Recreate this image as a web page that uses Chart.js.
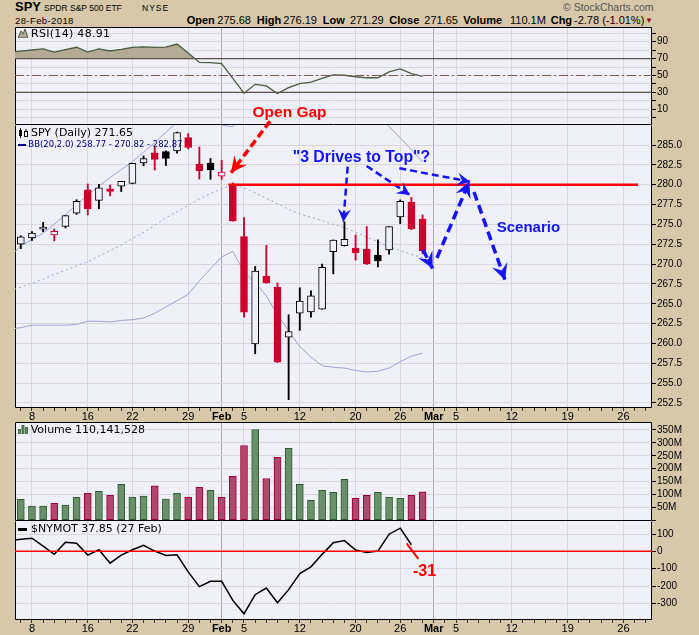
<!DOCTYPE html>
<html>
<head>
<meta charset="utf-8">
<script src="https://cdn.jsdelivr.net/npm/chart.js"></script>
<style>
  body { margin: 0; width: 699px; height: 635px; background: #d8c8aa; position: relative; overflow: hidden; }
  canvas { position: absolute; left: 0; }
  .t { position: absolute; white-space: nowrap; line-height: 1; font-family: "Liberation Sans", Arial, sans-serif; color: #000; z-index: 5; }
  .lbl { font-family: "DejaVu Sans", sans-serif; font-size: 11px; }
  .b { font-weight: bold; }
  .note { font-weight: bold; }
</style>
</head>
<body>
<canvas id="rsi" width="699" height="98" style="top:27px"></canvas>
<canvas id="price" width="699" height="322" style="top:100px"></canvas>
<canvas id="vol" width="699" height="99" style="top:422px"></canvas>
<canvas id="nymot" width="699" height="114" style="top:521px"></canvas>

<!-- header -->
<div class="t b" style="left:15px;top:0px;font-size:13px">SPY</div>
<div class="t" style="left:44px;top:3.8px;font-size:8.5px">SPDR S&amp;P 500 ETF</div>
<div class="t" style="left:142px;top:3.8px;font-size:8.5px;letter-spacing:1px">NYSE</div>
<div class="t" style="left:15px;top:16px;font-size:9.5px;letter-spacing:0.4px">28-Feb-2018</div>
<div class="t" style="left:563px;top:1.6px;font-size:10.5px;color:#555">&copy; StockCharts.com</div>
<div class="t b" style="left:186.7px;top:15.2px;font-size:11px">Open</div>
<div class="t" style="left:217.3px;top:15.2px;font-size:11px">275.68</div>
<div class="t b" style="left:256.7px;top:15.2px;font-size:11px">High</div>
<div class="t" style="left:283.3px;top:15.2px;font-size:11px">276.19</div>
<div class="t b" style="left:322.7px;top:15.2px;font-size:11px">Low</div>
<div class="t" style="left:350px;top:15.2px;font-size:11px">271.29</div>
<div class="t b" style="left:389.3px;top:15.2px;font-size:11px">Close</div>
<div class="t" style="left:424.3px;top:15.2px;font-size:11px">271.65</div>
<div class="t b" style="left:463.3px;top:15.2px;font-size:11px">Volume</div>
<div class="t" style="left:510px;top:15.2px;font-size:11px">110.1M</div>
<div class="t b" style="left:550.7px;top:15.2px;font-size:11px">Chg</div>
<div class="t" style="left:574px;top:15.2px;font-size:11px">-2.78 (-1.01%)</div>
<div class="t" style="left:645px;top:17px;font-size:8px;color:#990033">&#9660;</div>

<!-- panel labels -->
<svg class="t" style="left:18px;top:29px" width="10" height="9"><polygon points="0,9 3,2 5,5 7,0 10,9" fill="#b4ab96" stroke="#4a5c3c" stroke-width="1"/></svg>
<div class="t lbl" style="left:31px;top:27.7px;letter-spacing:0.3px">RSI(14) 48.91</div>
<svg class="t" style="left:18px;top:128px" width="11" height="10"><rect x="1" y="2" width="3" height="6" fill="#000"/><line x1="2.5" y1="0" x2="2.5" y2="10" stroke="#000"/><rect x="6.5" y="3.5" width="3" height="5" fill="#fff" stroke="#000"/><line x1="8" y1="1" x2="8" y2="3.5" stroke="#000"/></svg>
<div class="t lbl" style="left:31px;top:126.7px">SPY (Daily) 271.65</div>
<div class="t" style="left:18px;top:143.5px;width:8px;height:2px;background:#000080"></div>
<div class="t lbl" style="left:28.3px;top:140.3px;font-size:8.5px;color:#000080">BB(20,2.0) 258.77 - 270.82 - 282.87</div>
<svg class="t" style="left:18px;top:425px" width="10" height="9"><rect x="0.5" y="4.5" width="2" height="4" fill="#6a8f6a" stroke="#2e5e2e" stroke-width="0.8"/><rect x="4" y="0.5" width="2" height="8" fill="#6a8f6a" stroke="#2e5e2e" stroke-width="0.8"/><rect x="7.5" y="2.5" width="2" height="6" fill="#6a8f6a" stroke="#2e5e2e" stroke-width="0.8"/></svg>
<div class="t lbl" style="left:30.7px;top:424.2px">Volume 110,141,528</div>
<div class="t" style="left:18px;top:528px;width:9px;height:2.5px;background:#000"></div>
<div class="t lbl" style="left:31px;top:523.2px">$NYMOT 37.85 (27 Feb)</div>

<!-- annotations text -->
<div class="t note" style="left:252.5px;top:104.4px;font-size:15.5px;color:#ff0000">Open Gap</div>
<div class="t note" style="left:292.7px;top:148.6px;font-size:15.8px;color:#1414ff">"3 Drives to Top"?</div>
<div class="t note" style="left:496.7px;top:219.3px;font-size:15px;color:#1414ff">Scenario</div>
<div class="t note" style="left:413px;top:563px;font-size:16px;color:#ff0000">-31</div>

<script>
// trading days shown on the x axis (index = position)
const days = ['Jan 4','Jan 5','Jan 8','Jan 9','Jan 10','Jan 11','Jan 12','Jan 16','Jan 17','Jan 18','Jan 19',
  'Jan 22','Jan 23','Jan 24','Jan 25','Jan 26','Jan 29','Jan 30','Jan 31','Feb 1','Feb 2',
  'Feb 5','Feb 6','Feb 7','Feb 8','Feb 9','Feb 12','Feb 13','Feb 14','Feb 15','Feb 16',
  'Feb 20','Feb 21','Feb 22','Feb 23','Feb 26','Feb 27','Feb 28','Mar 1','Mar 2',
  'Mar 5','Mar 6','Mar 7','Mar 8','Mar 9','Mar 12','Mar 13','Mar 14','Mar 15','Mar 16',
  'Mar 19','Mar 20','Mar 21','Mar 22','Mar 23','Mar 26','Mar 27','Mar 28'];
const tickDays = ['Jan 8','Jan 16','Jan 22','Jan 29','Feb 1','Feb 5','Feb 12','Feb 20','Feb 26','Mar 1','Mar 5','Mar 12','Mar 19','Mar 26'];
const tickText = ['8','16','22','29','Feb','5','12','20','26','Mar','5','12','19','26'];
const monthDays = ['Feb 1','Mar 1'];

// SPY daily (Jan 4 is off the left edge)
const opens  = [null,272.51,273.31,274.40,273.68,274.75,276.42,279.35,278.03,279.48,279.80,280.17,282.74,284.02,284.16,284.25,285.93,282.60,282.73,281.07,280.08,273.45,259.94,268.50,267.08,260.80,263.83,263.97,264.31,271.57,272.32,272.03,271.90,271.10,271.79,275.93,277.80,275.68];
const highs  = [null,273.56,274.10,275.25,274.42,276.12,278.11,280.09,280.05,279.96,280.41,282.69,283.62,284.70,284.27,286.63,286.43,284.74,283.30,283.06,280.23,275.85,269.70,272.36,267.62,263.61,267.01,266.62,270.00,273.04,275.32,273.67,274.72,273.05,274.71,278.07,278.41,276.19];
const lows   = [null,271.95,272.98,274.08,272.92,274.56,276.27,276.18,276.97,278.58,279.14,280.11,282.37,281.84,282.41,283.96,284.50,280.70,280.68,280.68,275.41,263.31,258.70,267.58,257.60,252.92,261.66,263.31,264.30,268.77,272.27,270.50,269.94,269.64,271.25,275.10,274.34,271.29];
const closes = [null,273.42,273.92,274.54,274.12,276.12,277.92,276.97,279.61,279.14,280.41,282.69,283.29,283.18,283.30,286.58,284.68,281.76,281.90,281.58,275.45,263.93,269.13,267.67,257.63,261.50,265.34,266.00,269.59,273.03,273.11,271.40,270.05,270.40,274.71,277.90,274.43,271.65];
const volumeM = [null,81,55,55,65.5,59,89,104,112,96.5,139,90,94,133,82,104,90,129,116,90,170,290,352,162,244,279,139,77,116,108,159,85,96.5,108,89,85,96.5,110.1];

// Bollinger Bands (20,2)
const bbUpper = [270.9,272.3,273.1,273.9,275.0,276.2,277.5,278.7,279.8,280.9,281.9,282.9,284.1,285.3,286.6,287.9,288.6,288.6,288.0,287.5,287.3,289.5,291.0,292.0,293.0,293.5,293.2,292.6,292.0,291.3,290.8,290.3,289.8,288.8,287.35,285.9,284.4,282.87];
const bbMid   = [266.6,267.1,267.6,268.1,268.7,269.2,269.8,270.3,271.0,271.7,272.4,273.2,274.0,274.9,275.8,276.6,277.4,278.2,278.9,279.5,280.0,279.6,279.0,278.3,277.6,276.9,276.3,275.9,275.5,275.0,274.6,274.0,273.4,272.8,272.2,271.7,271.2,270.82];
const bbLower = [261.8,262.0,262.3,262.3,262.3,262.3,262.4,262.8,262.8,262.7,262.9,263.0,263.2,263.8,264.6,265.4,266.2,267.9,269.4,270.9,271.6,269.0,267.7,266.0,263.6,261.6,259.6,258.3,257.2,257.0,256.9,256.6,256.4,256.5,256.9,257.7,258.4,258.77];

const rsi = [77.7,78.9,80.2,81.4,77.6,80.5,83.4,77.6,81.4,79.0,81.0,83.4,83.8,83.4,83.5,87.2,76.5,65.5,65.3,64.0,46.5,29.1,39.5,37.6,28.7,35.7,40.3,42.2,46.5,50.8,50.3,48.5,47.3,47.3,54.3,57.8,52.3,48.91];
const nymot = [62,70,75.6,30,-17.4,52,46.5,-21.5,9.3,-68,-21.5,9.3,34.9,1.7,-23.3,-19.8,-118.6,-203.5,-172.7,-172.7,-283,-360.5,-250,-211.6,-296.5,-221,-128,-89.5,-17.4,50,62,7.6,-6,1.7,98.8,133.7,37.85];

// hand-drawn notes, in [day index, value]
const gapArrow = [[23.33, 288.0], [19.84, 281.5]];
const driveArrows = [
  [[30.29, 282.27], [29.9, 275.3]],
  [[31.99, 282.36], [35.87, 278.7]],
  [[34.92, 282.07], [41.25, 280.38]]
];
const scenarioArrows = [
  [[37.04, 271.8], [37.9, 269.45]],
  [[38.29, 270.77], [41.19, 280.4]],
  [[41.61, 279.08], [44.39, 268.0]]
];
const resistance = [[19.6, 280.0], [56.3, 280.0]];
const nymotSlash = [[35.57, 46], [36.62, -44]];

const priceTicks = [252.5,255,257.5,260,262.5,265,267.5,270,272.5,275,277.5,280,282.5,285];
const rsiTicks = [0,10,20,30,40,50,60,70,80,90,100];
const rsiLabels = [10,30,50,70,90];
const volTicks = [0,50e6,100e6,150e6,200e6,250e6,300e6,350e6];
const nymotTicks = [-300,-200,-100,0,100];

const FONT = '"Liberation Sans", Arial, sans-serif';
const PANEL = '#eff0f8';
const GRID = '#d7d7dc';
const X_MIN = 0.48, X_MAX = 57.56;

const tickAt = {};
tickDays.forEach((d, k) => { tickAt[days.indexOf(d)] = tickText[k]; });
const monthIdx = monthDays.map(d => days.indexOf(d));
const allIdx = days.map((d, i) => i).filter(i => i >= 1);

function xAxis(h) {
  return {
    type: 'linear', min: X_MIN, max: X_MAX, offset: false,
    afterBuildTicks: s => { s.ticks = allIdx.map(v => ({ value: v })); },
    afterFit: s => { s.height = h; s.paddingLeft = 0; s.paddingRight = 0; },
    grid: {
      offset: false, drawTicks: h > 0, tickLength: 3, tickWidth: 1, tickColor: '#333',
      color: c => {
        const v = c.tick && c.tick.value;
        if (tickAt[v] === undefined) return 'rgba(0,0,0,0)';
        return monthIdx.includes(v) ? '#a9a9ae' : GRID;
      }
    },
    border: { display: false },
    ticks: {
      display: h > 0, autoSkip: false, maxRotation: 0, padding: -1, color: '#000',
      font: c => ({ family: FONT, size: 11, weight: (c.tick && monthIdx.includes(c.tick.value)) ? 'bold' : 'normal' }),
      callback: v => tickAt[v] || ''
    }
  };
}

function yAxis(min, max, ticks, fmt) {
  return {
    position: 'right', min, max,
    afterBuildTicks: s => { s.ticks = ticks.map(v => ({ value: v })); },
    afterFit: s => { s.width = 47; s.paddingTop = 0; s.paddingBottom = 0; },
    grid: { color: GRID, drawTicks: true, tickLength: 4, tickColor: '#000' },
    border: { display: false },
    ticks: { autoSkip: false, padding: 1, color: '#000', font: { family: FONT, size: 10 }, callback: fmt }
  };
}

const framePlugin = {
  id: 'frame',
  beforeDraw(chart) {
    const { ctx, chartArea: a } = chart;
    ctx.save();
    ctx.fillStyle = PANEL;
    ctx.fillRect(a.left, a.top, a.right - a.left, a.bottom - a.top);
    ctx.restore();
  },
  beforeDatasetsDraw(chart, args, opts) {
    const { ctx, chartArea: a } = chart;
    const l = Math.round(a.left) + 0.5, r = Math.round(a.right) - 0.5;
    const t = Math.round(a.top) + 0.5, b = Math.round(a.bottom) - 0.5;
    ctx.save();
    ctx.strokeStyle = '#000';
    ctx.lineWidth = 1;
    ctx.beginPath();
    ctx.moveTo(l, t); ctx.lineTo(l, b); ctx.lineTo(r, b); ctx.lineTo(r, t);
    if (opts.top) ctx.lineTo(l, t);
    ctx.stroke();
    ctx.restore();
  }
};

// filled arrow head at the last point of datasets marked arrowHead
const arrowPlugin = {
  id: 'arrows',
  afterDatasetsDraw(chart) {
    const ctx = chart.ctx;
    chart.data.datasets.forEach((ds, i) => {
      if (!ds.arrowHead) return;
      const pts = chart.getDatasetMeta(i).data;
      const a = pts[pts.length - 2], b = pts[pts.length - 1];
      const ang = Math.atan2(b.y - a.y, b.x - a.x);
      const L = ds.arrowHead, W = L * 0.5;
      ctx.save();
      ctx.translate(b.x, b.y);
      ctx.rotate(ang);
      ctx.beginPath();
      ctx.moveTo(0, 0);
      ctx.lineTo(-L, -W);
      ctx.lineTo(-L * 0.62, 0);
      ctx.lineTo(-L, W);
      ctx.closePath();
      ctx.fillStyle = ds.borderColor;
      ctx.fill();
      ctx.restore();
    });
  }
};

function options(scales, frame, padTop) {
  return {
    responsive: false, animation: false, events: [],
    layout: { padding: { left: 15, right: 0, top: padTop || 0, bottom: 0 } },
    plugins: { legend: { display: false }, tooltip: { enabled: false }, frame: frame },
    scales: scales
  };
}

function series(arr, extra) {
  return Object.assign({
    type: 'line', data: arr.map((v, i) => ({ x: i, y: v })),
    pointRadius: 0, tension: 0, fill: false, borderWidth: 1
  }, extra);
}
function seg(points, color, width, extra) {
  return Object.assign({
    type: 'line', data: points.map(p => ({ x: p[0], y: p[1] })),
    borderColor: color, borderWidth: width, pointRadius: 0, tension: 0, fill: false, order: 0
  }, extra || {});
}
function level(v, color, width, dash) {
  return seg([[X_MIN, v], [X_MAX, v]], color, width, { borderDash: dash || [], order: 0 });
}

// ---- RSI ----
new Chart(document.getElementById('rsi'), {
  type: 'line',
  data: { datasets: [
    level(70, '#5a5249', 1.4),
    level(30, '#5a5249', 1.4),
    level(50, '#7a5c4c', 1, [9, 3, 2, 3]),
    series(rsi, { borderColor: '#4a5c3c', borderWidth: 1.3, order: 1,
      fill: { target: { value: 70 }, above: '#b4ab96', below: 'rgba(0,0,0,0)' } })
  ]},
  options: options({
    x: xAxis(0),
    y: yAxis(-8.6, 107.4, rsiTicks, v => rsiLabels.includes(v) ? String(v) : '')
  }, { top: true }),
  plugins: [framePlugin]
});

// ---- Price ----
const wickData = [], bodyData = [], candleColor = [], bodyFill = [];
for (let i = 0; i < closes.length; i++) {
  if (closes[i] == null) continue;
  const prev = i > 0 ? closes[i - 1] : null;
  const up = prev == null || closes[i] >= prev;
  const col = up ? '#000000' : '#d0002c';
  wickData.push({ x: i, y: [lows[i], highs[i]] });
  bodyData.push({ x: i, y: [Math.min(opens[i], closes[i]), Math.max(opens[i], closes[i])] });
  candleColor.push(col);
  bodyFill.push(closes[i] > opens[i] ? PANEL : col);
}

const BLUE = '#1414ff', RED = '#ff0000';
const priceSets = [
  seg(resistance, RED, 2.5),
  seg(gapArrow, RED, 3.5, { borderDash: [8, 4], arrowHead: 16, clip: false }),
];
driveArrows.forEach(a => priceSets.push(seg(a, BLUE, 2.5, { borderDash: [7, 4], arrowHead: 13, clip: false })));
scenarioArrows.forEach(a => priceSets.push(seg(a, BLUE, 3.5, { borderDash: [9, 5], arrowHead: 16, clip: false })));
priceSets.push(
  { type: 'bar', data: bodyData, backgroundColor: bodyFill, borderColor: candleColor, borderWidth: 1,
    borderSkipped: false, barThickness: 7, grouped: false, minBarLength: 2, order: 1 },
  { type: 'bar', data: wickData, backgroundColor: candleColor, borderWidth: 0,
    barThickness: 1.2, grouped: false, order: 2 },
  series(bbUpper, { borderColor: '#a2a2d6', order: 3 }),
  series(bbMid, { borderColor: '#a2a2d6', borderDash: [2, 3], order: 3 }),
  series(bbLower, { borderColor: '#a2a2d6', order: 3 })
);

new Chart(document.getElementById('price'), {
  type: 'bar',
  data: { datasets: priceSets },
  options: options({
    x: xAxis(14),
    y: yAxis(251.87, 287.52, priceTicks, v => v.toFixed(1))
  }, { top: false }, 25),
  plugins: [framePlugin, arrowPlugin]
});

// ---- Volume ----
const volData = [], volFill = [], volLine = [];
for (let i = 0; i < volumeM.length; i++) {
  if (volumeM[i] == null) continue;
  const prev = i > 0 ? closes[i - 1] : null;
  const up = prev == null || closes[i] >= prev;
  volData.push({ x: i, y: volumeM[i] * 1e6 });
  volFill.push(up ? '#6a8f6a' : '#b3466c');
  volLine.push(up ? '#2e5e2e' : '#9a0034');
}
new Chart(document.getElementById('vol'), {
  type: 'bar',
  data: { datasets: [
    { data: volData, backgroundColor: volFill, borderColor: volLine, borderWidth: 1,
      borderSkipped: false, barThickness: 7, grouped: false }
  ]},
  options: options({
    x: xAxis(0),
    y: yAxis(-3e6, 381e6, volTicks, v => v === 0 ? '' : (v / 1e6) + 'M')
  }, { top: true }),
  plugins: [framePlugin]
});

// ---- $NYMOT ----
new Chart(document.getElementById('nymot'), {
  type: 'line',
  data: { datasets: [
    seg(nymotSlash, RED, 2),
    level(0, RED, 1.5),
    series(nymot, { borderColor: '#000', borderWidth: 1.5, order: 1 })
  ]},
  options: options({
    x: xAxis(15),
    y: yAxis(-396, 175, nymotTicks, v => String(v))
  }, { top: false }),
  plugins: [framePlugin]
});
</script>
</body>
</html>
